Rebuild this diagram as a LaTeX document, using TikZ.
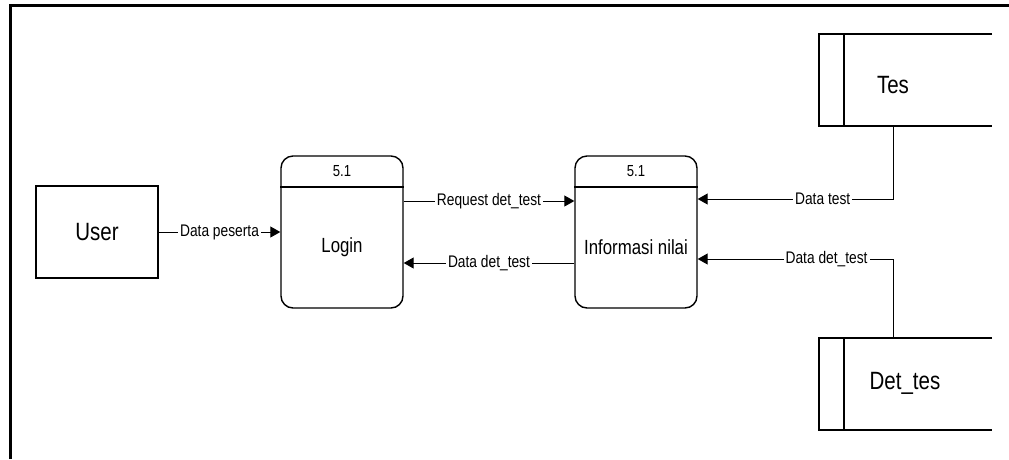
\documentclass[tikz,border=0pt]{standalone}
\usepackage{fontspec}
\setmainfont{Liberation Sans}[FakeStretch=0.82]
\usetikzlibrary{arrows.meta}
\tikzset{
  process/.style={draw, line width=1.4pt, rounded corners=12pt, minimum width=122pt, minimum height=152pt},
  entity/.style={draw, line width=1.4pt, minimum width=122pt, minimum height=92pt, font=\fontsize{25}{30}\selectfont},
  store/.style={minimum width=173pt, minimum height=92pt},
  flow/.style={line width=1pt, -{Triangle[length=10pt,width=11pt]}},
  lbl/.style={fill=white, inner sep=2pt, font=\fontsize{16.8}{18}\selectfont}
}
\begin{document}
\begin{tikzpicture}[x=1pt, y=-1pt]
\useasboundingbox (0,0) rectangle (1009,459);
\draw[line width=3pt] (10,459) -- (10,5) -- (1009,5);
\node[entity] (user) at (97,232) {User};
\foreach \name/\x/\txt in {login/342/Login, info/636/Informasi nilai}{
\node[process] (\name) at (\x,232) {};
\draw[line width=1.4pt] (\name.west |- 0,187) -- (\name.east |- 0,187);
\node[font=\fontsize{16}{18}\selectfont] (\name num) at (\x,171) {5.1};
\node[font=\fontsize{20.5}{24}\selectfont] (\name txt) at (\x,247) {\txt};
}
\foreach \name/\y/\tx/\ty/\txt in {tes/80/893/85/Tes, dettes/384/905/383/Det\_tes}{
\node[store] (\name) at (905.5,\y) {};
\draw[line width=2pt] (\name.north east) -- (\name.north west) -- (\name.south west) -- (\name.south east);
\draw[line width=2pt] ([xshift=25pt]\name.north west) -- ([xshift=25pt]\name.south west);
\node[font=\fontsize{25}{30}\selectfont] (\name txt) at (\tx,\ty) {\txt};
}
\draw[flow] (user) -- node[lbl]{Data peserta} (login);
\draw[flow] (login.east |- 0,201) -- node[lbl]{Request det\_test} (info.west |- 0,201);
\draw[flow] (info.west |- 0,263) -- node[lbl]{Data det\_test} (login.east |- 0,263);
\draw[flow] (tes.south -| testxt) |- node[lbl, pos=0.68]{Data test} (info.east |- 0,199);
\draw[flow] (dettes.north -| testxt) |- node[lbl, pos=0.67]{Data det\_test} (info.east |- 0,259);
\end{tikzpicture}
\end{document}
